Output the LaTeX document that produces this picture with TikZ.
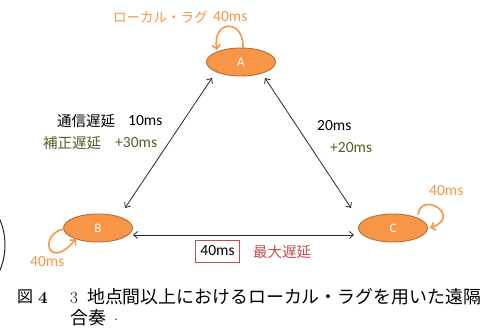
\documentclass[tikz,border=0pt]{standalone}
\usepackage{fontspec}
\setmainfont{Carlito}
\newfontfamily\jp{Noto Sans CJK JP}
\newfontfamily\lm{Latin Modern Roman}
\usetikzlibrary{shapes.geometric,arrows.meta,calc}
\definecolor{og}{HTML}{F79646}
\definecolor{ogd}{HTML}{B66D31}
\definecolor{gr}{HTML}{4F6228}
\definecolor{rd}{HTML}{C0504D}
\definecolor{ln}{HTML}{282828}
\tikzset{
  ell/.style={ellipse,draw=ogd,line width=0.9pt,fill=og,text=white,minimum width=69pt,minimum height=28pt,inner sep=0pt,font=\fontsize{13}{13}\selectfont},
  link/.style={draw=ln,line width=0.8pt,{Straight Barb[length=4pt,width=7pt]}-{Straight Barb[length=4pt,width=7pt]}},
  loop/.style={draw=og,line width=1.6pt,-{Straight Barb[length=4pt,width=8pt]}},
  lbl/.style={inner sep=0pt,anchor=west},
  jpf/.style={font=\jp\fontsize{14.5}{15}\selectfont},
  enf/.style={font=\fontsize{15.5}{15.5}\selectfont},
}
\begin{document}
\begin{tikzpicture}[x=1pt,y=-1pt]
\useasboundingbox (0,0) rectangle (483,331);
\fill[white] (0,0) rectangle (483,331);
% nodes
\node[ell] (A) at (241,62) {A};
\node[ell] (B) at (98,228) {B};
\node[ell] (C) at (393,228) {C};
% connectors
\draw[link] ($(A)+(-29,16)$) -- ($(B)+(27,-20)$);
\draw[link] ($(A)+(24,16)$) -- ($(C)+(-42,-20)$);
\draw[link] ($(B)+(35,7)$) -- ($(C)+(-39,7)$);
% loops
\draw[loop] ($(A)+(2,-14)$) .. controls ($(A)+(3,-44)$) and ($(A)+(-29,-42)$) .. ($(A)+(-24,-12)$);
\draw[loop] ($(B)+(-34,1)$) .. controls ($(B)+(-60,6)$) and ($(B)+(-50,44)$) .. ($(B)+(-22,11)$);
\draw[loop] ($(C)+(25,-13)$) .. controls ($(C)+(28,-38)$) and ($(C)+(70,-12)$) .. ($(C)+(37,0)$);
% labels
\node[lbl,text=og,font=\jp\fontsize{13.5}{14}\selectfont] (la) at (113,17) {ローカル・ラグ};
\node[lbl,text=og,enf] (la2) at (213,17) {40ms};
\node[lbl,jpf] (t1) at (57,121) {通信遅延};
\node[lbl,enf] (t2) at (128,121) {10ms};
\node[lbl,jpf,text=gr] (t3) at (43,143) {補正遅延};
\node[lbl,enf,text=gr] (t4) at (115,143) {+30ms};
\node[lbl,enf] (t5) at (317,126) {20ms};
\node[lbl,enf,text=gr] (t6) at (330,148) {+20ms};
\node[lbl,enf,text=og] (t7) at (429,191) {40ms};
\node[lbl,enf,text=og] (t8) at (30,262) {40ms};
\node[draw=rd,line width=0.8pt,enf,inner xsep=5pt,minimum height=22pt,anchor=west] (bx) at (195,251) {40ms};
\node[lbl,jpf,text=rd] (mx) at (253,252) {最大遅延};
% caption
\node[lbl,font=\jp\fontsize{16}{16}\selectfont] (c0) at (17,297) {図};
\node[lbl,font=\lm\bfseries\fontsize{17}{17}\selectfont] (c1) at (38,298) {4};
\node[lbl,font=\lm\fontsize{17}{17}\selectfont] (c2) at (70,298) {3};
\node[lbl,font=\jp\fontsize{17.9}{18}\selectfont] (c3) at (87,297) {地点間以上におけるローカル・ラグを用いた遠隔};
\node[lbl,font=\jp\fontsize{17.9}{18}\selectfont] (c4) at (70,318) {合奏};
\node[lbl,font=\lm\fontsize{17}{17}\selectfont] (c5) at (114,320) {.};
% partial circle at left edge
\begin{scope}
\clip (0,0) rectangle (483,331);
\draw[ln,line width=1pt] (-60,245) circle (65);
\end{scope}
\end{tikzpicture}
\end{document}
